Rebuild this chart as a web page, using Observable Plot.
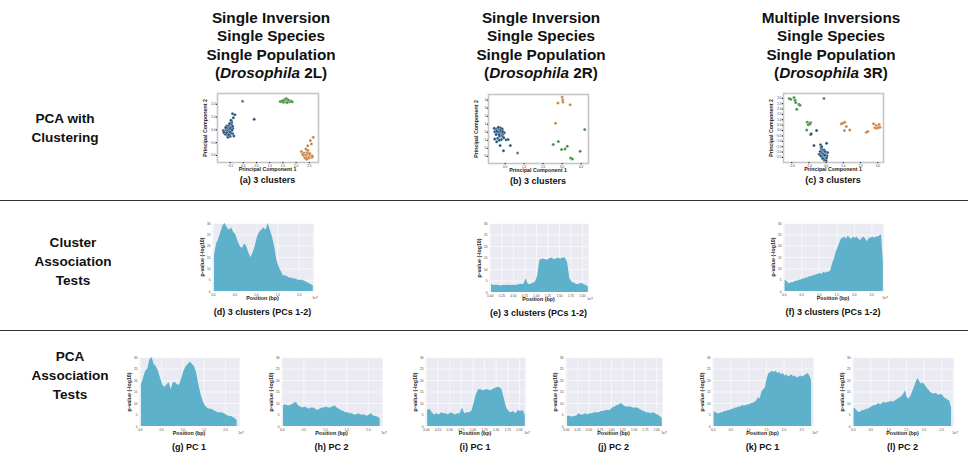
<!DOCTYPE html>
<html><head><meta charset="utf-8">
<script src="https://cdn.jsdelivr.net/npm/d3@7"></script>
<script src="https://cdn.jsdelivr.net/npm/@observablehq/plot@0.6"></script>
<style>
html,body{margin:0;padding:0;background:#fff;}
#root{position:relative;width:968px;height:454px;overflow:hidden;font-family:"Liberation Sans",Arial,sans-serif;color:#111;}
.t{position:absolute;transform:translate(-50%,-50%);white-space:nowrap;line-height:1;}
.hd{font-weight:bold;font-size:15.3px;}
.rl{font-weight:bold;font-size:13.6px;}
.cap{font-size:9px;font-weight:600;}
.al{font-weight:bold;font-size:5.3px;color:#222;}
.e7{font-size:3.3px;color:#444;}
.sep{position:absolute;left:0;width:968px;height:1px;background:#333;}
.p{position:absolute;}
</style></head><body><div id="root"></div>
<script>
// ---------- DATA ----------
const headers = [
  ["Single Inversion","Single Species","Single Population","(<i>Drosophila</i> 2L)"],
  ["Single Inversion","Single Species","Single Population","(<i>Drosophila</i> 2R)"],
  ["Multiple Inversions","Single Species","Single Population","(<i>Drosophila</i> 3R)"]
];
const rowLabels = [["PCA with","Clustering"],["Cluster","Association","Tests"],["PCA","Association","Tests"]];
const pcaCaptions = ["(a) 3 clusters","(b) 3 clusters","(c) 3 clusters"];
const clusterCaptions = ["(d) 3 clusters (PCs 1-2)","(e) 3 clusters (PCs 1-2)","(f) 3 clusters (PCs 1-2)"];
const pcCaptions = ["(g) PC 1","(h) PC 2","(i) PC 1","(j) PC 2","(k) PC 1","(l) PC 2"];

// PCA scatter points [PC1, PC2]
const blueA = [[-0.62,-0.05],[-0.58,0.10],[-0.55,-0.20],[-0.65,-0.15],[-0.50,0.05],[-0.60,-0.30],[-0.70,-0.10],[-0.52,-0.35],[-0.45,-0.10],[-0.48,0.25],[-0.55,0.35],[-0.45,0.45],[-0.66,0.00],[-0.72,-0.25],[-0.60,-0.45],[-0.50,-0.50],[-0.40,-0.30],[-0.40,0.10],[-0.57,0.20],[-0.63,0.30],[-0.53,-0.05],[-0.47,-0.25],[-0.68,-0.35],[-0.76,-0.05],[-0.44,0.62],[-0.58,-0.58],[-0.36,-0.48],[-0.61,0.12],[-0.54,0.02],[-0.59,-0.12],[-0.51,-0.16],[-0.64,-0.22],[-0.56,-0.38],[-0.49,0.14],[-0.67,0.18],[-0.43,-0.02],[-0.74,-0.18],[-0.41,0.28],[-0.52,0.50],[-0.47,0.75],[-0.41,1.26],[-0.32,1.18],[-0.38,0.95],[0.41,0.82]];
const greenA = [[1.45,2.20],[1.50,2.25],[1.55,2.22],[1.58,2.30],[1.62,2.18],[1.65,2.26],[1.68,2.22],[1.60,2.35],[1.52,2.15],[1.72,2.28],[1.75,2.20],[1.57,2.40],[1.63,2.45],[1.40,2.22],[1.80,2.25],[1.66,2.14],[1.54,2.30],[1.70,2.34],[1.48,2.28],[1.85,2.20],[-0.03,2.24]];
const brownA = [[2.30,-1.80],[2.35,-1.95],[2.40,-2.05],[2.45,-1.90],[2.50,-2.10],[2.38,-2.15],[2.28,-2.00],[2.55,-2.00],[2.42,-1.75],[2.48,-2.20],[2.33,-2.20],[2.52,-1.85],[2.60,-2.15],[2.25,-1.90],[2.45,-1.60],[2.37,-1.50],[2.44,-1.24],[2.54,-0.84],[2.65,-0.58],[2.58,-1.10],[2.62,-2.05],[2.20,-1.70],[2.40,-2.30]];
const blueB = [[-0.40,0.20],[-0.35,0.10],[-0.30,0.30],[-0.25,0.00],[-0.20,0.15],[-0.45,0.40],[-0.50,0.25],[-0.38,-0.10],[-0.28,-0.25],[-0.18,-0.10],[-0.15,0.25],[-0.33,0.45],[-0.42,-0.05],[-0.22,-0.40],[-0.10,-0.20],[-0.55,0.05],[-0.48,-0.30],[-0.30,-0.50],[-0.12,-0.55],[-0.05,-0.05],[-0.26,0.55],[-0.58,0.50],[-0.36,0.62],[-0.16,0.42],[-0.08,-0.70],[-0.40,-0.75],[-0.55,-0.85],[-0.20,-0.90],[0.05,-0.95],[-0.31,-1.00],[0.15,-0.90],[-0.45,-1.20],[-0.27,-1.67],[-0.09,-2.30],[0.27,-1.67],[-0.35,0.00],[-0.24,0.20],[-0.44,0.12],[-0.32,-0.32],[-0.14,0.05]];
const greenB = [[0.65,-2.60],[2.53,-1.54],[2.80,-1.17],[2.97,-2.17],[3.15,-2.08],[3.27,-1.75],[3.45,-3.20],[3.54,-3.33],[3.95,-2.38],[4.19,0.33]];
const brownB = [[3.00,4.38],[3.03,4.04],[2.78,3.63],[3.04,3.75],[3.42,3.42],[2.65,1.13]];
const greenC = [[-2.15,2.97],[-2.06,2.90],[-1.87,3.06],[-1.81,2.81],[-1.77,2.60],[-1.58,2.44],[-1.52,2.34],[-1.71,1.97],[-0.13,2.97],[-1.10,0.78],[-1.00,0.69],[-0.90,0.72],[-1.04,0.53],[-1.13,0.06],[-0.95,0.60]];
const blueC = [[-0.90,-0.375],[-0.87,-0.31],[-0.56,0.00],[-0.71,-1.40],[-0.33,-1.31],[0.02,-1.19],[-0.30,-1.60],[-0.25,-1.75],[-0.20,-1.90],[-0.15,-2.00],[-0.10,-2.10],[-0.05,-2.20],[0.00,-2.30],[-0.22,-2.15],[-0.18,-2.30],[-0.12,-2.40],[-0.08,-2.50],[-0.02,-2.45],[-0.28,-2.05],[-0.35,-1.95],[-0.15,-2.60],[-0.05,-2.65],[0.05,-2.35],[0.08,-2.05],[-0.25,-2.45],[-0.40,-2.20],[-0.10,-2.75],[-0.20,-2.60],[0.02,-2.55],[-0.32,-2.35],[-0.12,-1.80],[-0.06,-1.95],[-0.26,-1.50],[0.00,-2.80],[-0.16,-2.20],[-0.08,-2.30]];
const brownC = [[0.88,0.625],[1.08,0.78],[1.17,0.375],[1.06,0.00],[1.37,0.06],[0.98,0.70],[2.33,-0.16],[2.42,-0.09],[2.75,0.625],[2.90,0.47],[3.02,0.31],[2.83,0.25],[3.08,0.56],[2.94,0.22],[3.13,0.31],[3.05,0.28]];

// Association tests: max -log10 p per 0.5 Mb window, from position 0
const binMb = 0.5;
const cl2L = [16,21,23,26,29,30,28,27,28,26,25,22,20,19,21,20,17,15,17,20,24,26,27,28,27,30,27,24,20,14,11,9,7,7,6.5,6,6,5.5,5.5,5,5,5,4.5,4,3.5,3,2.5];
const cl2R = [3.5,3,3.2,3,2.8,3,3,3.2,3,3,3.2,3,3.5,3.5,3.5,6,3.5,3.5,4,4.5,7,14,14.5,14.5,14,14.5,15,14.5,14.5,15,14.5,15,15,13,6,4.5,4,3.5,3.5,4,3.5,3,2.5];
const cl3R = [5,4.5,3.5,3.5,4,4,4.5,4.5,5,5,5.5,5.5,6,6,6.5,6.5,7,7,7.5,7.5,8,7.5,8.5,8,8.5,8.5,9,12,14,17,19,21,23,23.5,24,23,24.5,23.5,23,24,23.5,24,23,22.5,23.5,24,23,22,23.5,23.5,24,23.5,24,24,24.5,25,13];
const pc1_2L = [18,21,24,25,29,30,27,26,24,21,18,17,18,19,16,19,19,18,18,21,24,26,27,28,27,26,23,18,14,11,9,8,7.5,7.5,7,6.5,6,6,6,5.5,5,4.5,4.5,4,3.5,2.5];
const pc2_2L = [9,9.5,9,9,9.5,10,10.5,9,8.5,8,8.5,8,7.5,8,8,7.5,7,7.5,8,8,8.5,8,8,8.5,9,8,7.5,7,6.5,6,6,5.5,5.5,5,5,5.5,5,5,5,4.5,5,5.5,4.5,4.5,4,3.5];
const pc1_2R = [7,7.5,6,5,5.5,5,6,5.5,5.5,5,6,5.5,5,5.5,5.5,8,5.5,6,6,6.5,10,14,16,16,15.5,16,16,15.5,16,16.5,17,17,16,12,8,6.5,6,6.5,5.5,7,6.5,7,5];
const pc2_2R = [4.5,4.5,4,4.5,4.5,5.5,5,5,5.5,5,5.5,5.5,6,6,6,6.5,6.5,7,7,7,8,8.5,9,9.5,10,9,8.5,8.5,8.5,8,8,8,7.5,7,6.5,6,6,5.5,6,5.5,5,4.5,3.5];
const pc1_3R = [6.5,6,5.5,5.5,6,6,6.5,6.5,7,7,7.5,7.5,8,8,8.5,8.5,9,9,9,9.5,9.5,10,10,10.5,11,12.5,12,15,16,17,21,23,23.5,24,23.5,24,23,23.5,22.5,23,22,22.5,21.5,22,22.5,21.5,22,21,21.5,22,21.5,22,22.5,23,22,20];
const pc2_3R = [8,7.5,6.5,6,6.5,7,7,7.5,7.5,8,8.5,9,9,9.5,10,9.5,10,10.5,10,10.5,10.5,11,10.5,11,11.5,12,12.5,13,14,15.5,12.5,12,13,15,17,19,21,19.5,18.5,19,18,17,16,15,14.5,14,14.5,14,13.5,14,13.5,12.5,12,11.5,11,8];

const yTicks = [0,5,10,15,20,25,30];
const xTicks2L = [0,0.5e7,1e7,1.5e7,2e7];
const xTicks2R = [0,0.25e7,0.5e7,0.75e7,1e7,1.25e7,1.5e7,1.75e7,2e7];
const xTicks3R = [0,0.5e7,1e7,1.5e7,2e7,2.5e7];

// ---------- STYLE ----------
const barColor = "#5DB1CB";
const colBlue = "#1f4e79", colGreen = "#3b8b3b", colBrown = "#c47f3d";

const root = document.getElementById("root");
function txt(html, cx, cy, cls, rot) {
  const d = document.createElement("div");
  d.className = "t " + cls;
  d.innerHTML = html;
  d.style.left = cx + "px"; d.style.top = cy + "px";
  if (rot) d.style.transform = "translate(-50%,-50%) rotate(-90deg)";
  root.appendChild(d);
}
function place(svg, x, y) {
  svg.classList.add("p");
  svg.style.left = x + "px"; svg.style.top = y + "px";
  root.appendChild(svg);
}

// headers
const colX = [271, 541, 831];
headers.forEach((lines, c) => lines.forEach((l, i) => txt(l, colX[c], 18 + i * 18.4, "hd")));
// row labels
[[65,119],[73,243],[70,357]].forEach(([x,y], r) => rowLabels[r].forEach((l,i) => txt(l, x, y + i * 19, "rl")));
// separators
[200, 330].forEach(y => { const s = document.createElement("div"); s.className = "sep"; s.style.top = y + "px"; root.appendChild(s); });

// ---------- PCA panels ----------
function pca(sets, xd, yd, xt, yt, box, cap) {
  const ml = 8, mr = 4, mt = 3, mb = 6;
  const marks = [Plot.frame({fill: "white"})];
  sets.forEach(([pts, col]) => marks.push(Plot.dot(pts, {x: d => d[0], y: d => d[1], r: 1.5, fill: col, stroke: "white", strokeWidth: 0.3})));
  marks.push(Plot.frame({stroke: "#c6c6c6", strokeWidth: 1.6}));
  marks.push(Plot.axisX({ticks: xt, tickSize: 1.2, tickPadding: 0.8, fontSize: 3, fill: "#333", label: null}));
  marks.push(Plot.axisY({ticks: yt, tickSize: 1.2, tickPadding: 0.8, fontSize: 3, fill: "#333", label: null}));
  const svg = Plot.plot({
    width: box.w + ml + mr, height: box.h + mt + mb,
    marginLeft: ml, marginRight: mr, marginTop: mt, marginBottom: mb,
    x: {domain: xd}, y: {domain: yd},
    style: {background: "transparent", overflow: "visible", fontFamily: "Liberation Sans"},
    marks
  });
  place(svg, box.x - ml, box.y - mt);
  const cx = box.x + box.w / 2;
  txt("Principal Component 1", cx, box.y + box.h + 7.5, "al");
  txt("Principal Component 2", box.x - 11, box.y + box.h / 2, "al", true);
  txt(cap, cx, box.y + box.h + 17.5, "cap");
}
pca([[blueA,colBlue],[greenA,colGreen],[brownA,colBrown]], [-0.98,2.85], [-2.55,2.84],
    [-0.5,0,0.5,1,1.5,2,2.5], [-2,-1,0,1,2], {x:217,y:93,w:101,h:69}, pcaCaptions[0]);
pca([[blueB,colBlue],[greenB,colGreen],[brownB,colBrown]], [-0.88,4.39], [-3.9,4.7],
    [0,1,2,3,4], [-3,-2,-1,0,1,2,3,4], {x:488,y:94,w:100,h:69}, pcaCaptions[1]);
pca([[greenC,colGreen],[blueC,colBlue],[brownC,colBrown]], [-2.48,3.33], [-2.97,3.44],
    [-2,-1,0,1,2,3], [-2.5,-2,-1.5,-1,-0.5,0,0.5,1,1.5,2,2.5,3], {x:783,y:93,w:100,h:69}, pcaCaptions[2]);

// ---------- Association panels ----------
function manhattan(vals, xmax, xt, fmt, box, cap) {
  const ml = 10, mr = 6, mt = 3, mb = 8;
  const data = vals.map((v, i) => ({pos: (i + 0.5) * binMb * 1e6, p: v}));
  const svg = Plot.plot({
    width: box.w + ml + mr, height: box.h + mt + mb,
    marginLeft: ml, marginRight: mr, marginTop: mt, marginBottom: mb,
    x: {domain: [-0.2e6, xmax]}, y: {domain: [0, 30]},
    style: {background: "transparent", overflow: "visible", fontFamily: "Liberation Sans"},
    marks: [
      Plot.frame({fill: "#EAEAF2"}),
      Plot.gridX({ticks: xt, stroke: "white", strokeOpacity: 1, strokeWidth: 0.6}),
      Plot.gridY({ticks: yTicks, stroke: "white", strokeOpacity: 1, strokeWidth: 0.6}),
      Plot.areaY(data, {x: "pos", y: "p", fill: barColor}),
      Plot.axisX({ticks: xt, tickFormat: fmt, tickSize: 0, tickPadding: 2, fontSize: 3.2, fill: "#444", label: null}),
      Plot.axisY({ticks: yTicks, tickSize: 0, tickPadding: 2, fontSize: 3.2, fill: "#444", label: null})
    ]
  });
  place(svg, box.x - ml, box.y - mt);
  const cx = box.x + box.w / 2;
  txt("Position (bp)", cx, box.y + box.h + 8, "al");
  txt("p-value (-log10)", box.x - 9, box.y + box.h / 2, "al", true);
  txt("1e7", box.x + box.w + 2, box.y + box.h + 7.5, "e7");
  txt(cap, cx, box.y + box.h + 21, "cap");
}
const f1 = d => (d / 1e7).toFixed(1), f2 = d => (d / 1e7).toFixed(2);
manhattan(cl2L, 23.3e6, xTicks2L, f1, {x:212,y:223,w:101,h:68}, clusterCaptions[0]);
manhattan(cl2R, 21.3e6, xTicks2R, f2, {x:489,y:223,w:99,h:69}, clusterCaptions[1]);
manhattan(cl3R, 28.3e6, xTicks3R, f1, {x:783,y:223,w:100,h:68}, clusterCaptions[2]);

const row3 = [[pc1_2L,23.3e6,xTicks2L,f1,139,100],[pc2_2L,23.3e6,xTicks2L,f1,281,101],
              [pc1_2R,21.3e6,xTicks2R,f2,425,100],[pc2_2R,21.3e6,xTicks2R,f2,565,97],
              [pc1_3R,28.3e6,xTicks3R,f1,712,101],[pc2_3R,28.3e6,xTicks3R,f1,852,101]];
row3.forEach(([v,xm,xt,fmt,x,w], i) => manhattan(v, xm, xt, fmt, {x, y:357, w, h:69}, pcCaptions[i]));
</script></body></html>
